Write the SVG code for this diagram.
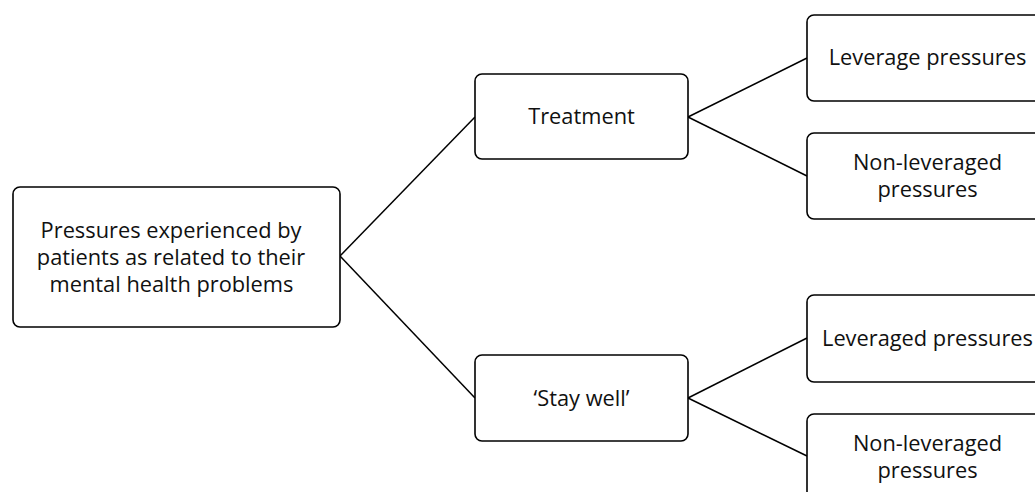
<svg xmlns="http://www.w3.org/2000/svg" width="1035" height="492" viewBox="0 0 1035 492">
  <style>
    .box { fill: #ffffff; stroke: #000000; stroke-width: 1.6; }
    .label { font-family: "Open Sans", "Noto Sans", "DejaVu Sans", sans-serif; font-size: 21.8px; fill: #111111; text-anchor: middle; }
    .link { stroke: #000000; stroke-width: 1.5; fill: none; }
  </style>
  <rect width="1035" height="492" fill="#ffffff"/>

  <g id="connectors">
    <line class="link" x1="340" y1="256" x2="475" y2="117"/>
    <line class="link" x1="340" y1="256" x2="475" y2="398"/>
    <line class="link" x1="688" y1="117" x2="807" y2="58"/>
    <line class="link" x1="688" y1="117" x2="807" y2="176"/>
    <line class="link" x1="688" y1="398" x2="807" y2="338"/>
    <line class="link" x1="688" y1="398" x2="807" y2="456"/>
  </g>

  <g id="root">
    <rect class="box" x="13" y="187" width="327" height="140" rx="7"/>
    <text class="label" x="171" y="238">Pressures experienced by</text>
    <text class="label" x="171" y="264.75">patients as related to their</text>
    <text class="label" x="171.5" y="291.5">mental health problems</text>
  </g>

  <g id="treatment">
    <rect class="box" x="475" y="74" width="213" height="85" rx="7"/>
    <text class="label" x="581.5" y="124">Treatment</text>
  </g>

  <g id="stay-well">
    <rect class="box" x="475" y="355" width="213" height="86" rx="7"/>
    <text class="label" x="581.5" y="406">‘Stay well’</text>
  </g>

  <g id="leverage-pressures">
    <rect class="box" x="807" y="15" width="240" height="86" rx="7"/>
    <text class="label" x="927.5" y="65">Leverage pressures</text>
  </g>

  <g id="non-leveraged-treatment">
    <rect class="box" x="807" y="133" width="240" height="86" rx="7"/>
    <text class="label" x="927.5" y="169.5">Non-leveraged</text>
    <text class="label" x="927.5" y="196.5">pressures</text>
  </g>

  <g id="leveraged-pressures">
    <rect class="box" x="807" y="295" width="240" height="87" rx="7"/>
    <text class="label" x="927.5" y="346">Leveraged pressures</text>
  </g>

  <g id="non-leveraged-stay-well">
    <rect class="box" x="807" y="414" width="240" height="100" rx="7"/>
    <text class="label" x="927.5" y="450.5">Non-leveraged</text>
    <text class="label" x="927.5" y="477.5">pressures</text>
  </g>
</svg>
